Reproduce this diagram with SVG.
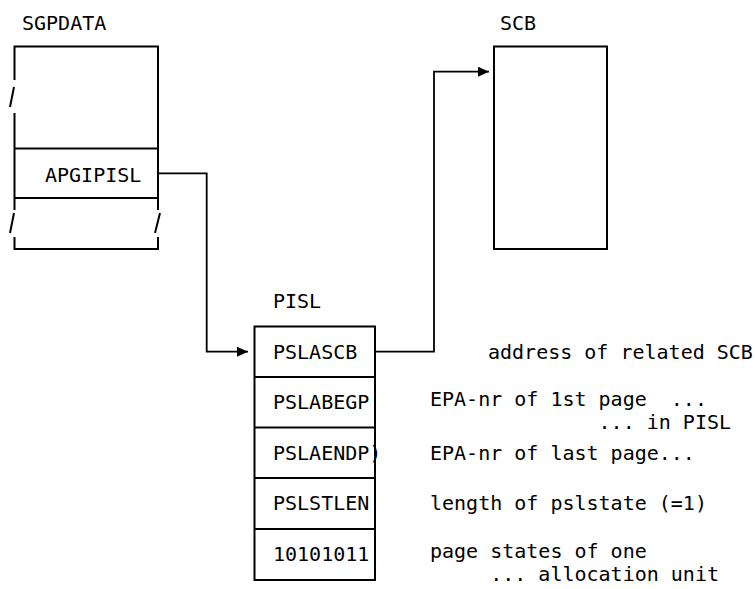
<svg xmlns="http://www.w3.org/2000/svg" width="755" height="589" viewBox="0 0 755 589">
<style>
text{font-family:"DejaVu Sans Mono","Liberation Mono",monospace;font-size:20px;fill:#000}
.b{fill:none;stroke:#000;stroke-width:2}
.c{fill:none;stroke:#000;stroke-width:1.8}
</style>
<defs>
<marker id="ah" markerWidth="11" markerHeight="10" refX="11" refY="5" orient="auto" markerUnits="userSpaceOnUse">
<path d="M0,0 L11,5 L0,10 Z" fill="#000"/>
</marker>
</defs>
<rect width="755" height="589" fill="#fff"/>
<g id="sgpdata">
<text x="22" y="30">SGPDATA</text>
<path class="b" d="M14.5,80 V46.5 H158 V210 M14.5,113 V210 M14.5,148.5 H158 M14.5,198 H158 M14.5,237 V249 H158 V237"/>
<path class="b" d="M10,107 L14,87 M10,233 L14,213 M155,233 L160,213"/>
<text x="45" y="182">APGIPISL</text>
</g>
<g id="scb">
<text x="500" y="30">SCB</text>
<rect class="b" x="494" y="46.5" width="113" height="202.5"/>
</g>
<g id="pisl">
<text x="273" y="308">PISL</text>
<rect class="b" x="254.5" y="326.5" width="120.5" height="253.5"/>
<path class="b" d="M254.5,377 H375 M254.5,427.5 H375 M254.5,478 H375 M254.5,529 H375"/>
<text x="273" y="359">PSLASCB</text>
<text x="273" y="409">PSLABEGP</text>
<text x="273" y="460">PSLAENDP)</text>
<text x="273" y="510">PSLSTLEN</text>
<text x="273" y="561">10101011</text>
</g>
<g id="notes">
<text x="488" y="359">address of related SCB</text>
<text x="430" y="406" xml:space="preserve">EPA-nr of 1st page  ...</text>
<text x="430" y="429" xml:space="preserve">              ... in PISL</text>
<text x="430" y="460">EPA-nr of last page...</text>
<text x="430" y="510">length of pslstate (=1)</text>
<text x="430" y="558">page states of one</text>
<text x="430" y="581" xml:space="preserve">     ... allocation unit</text>
</g>
<g id="connectors">
<path class="c" d="M158,173.3 H206.7 V351.7 H248" marker-end="url(#ah)"/>
<path class="c" d="M375,351.7 H434 V71.7 H489" marker-end="url(#ah)"/>
</g>
</svg>
